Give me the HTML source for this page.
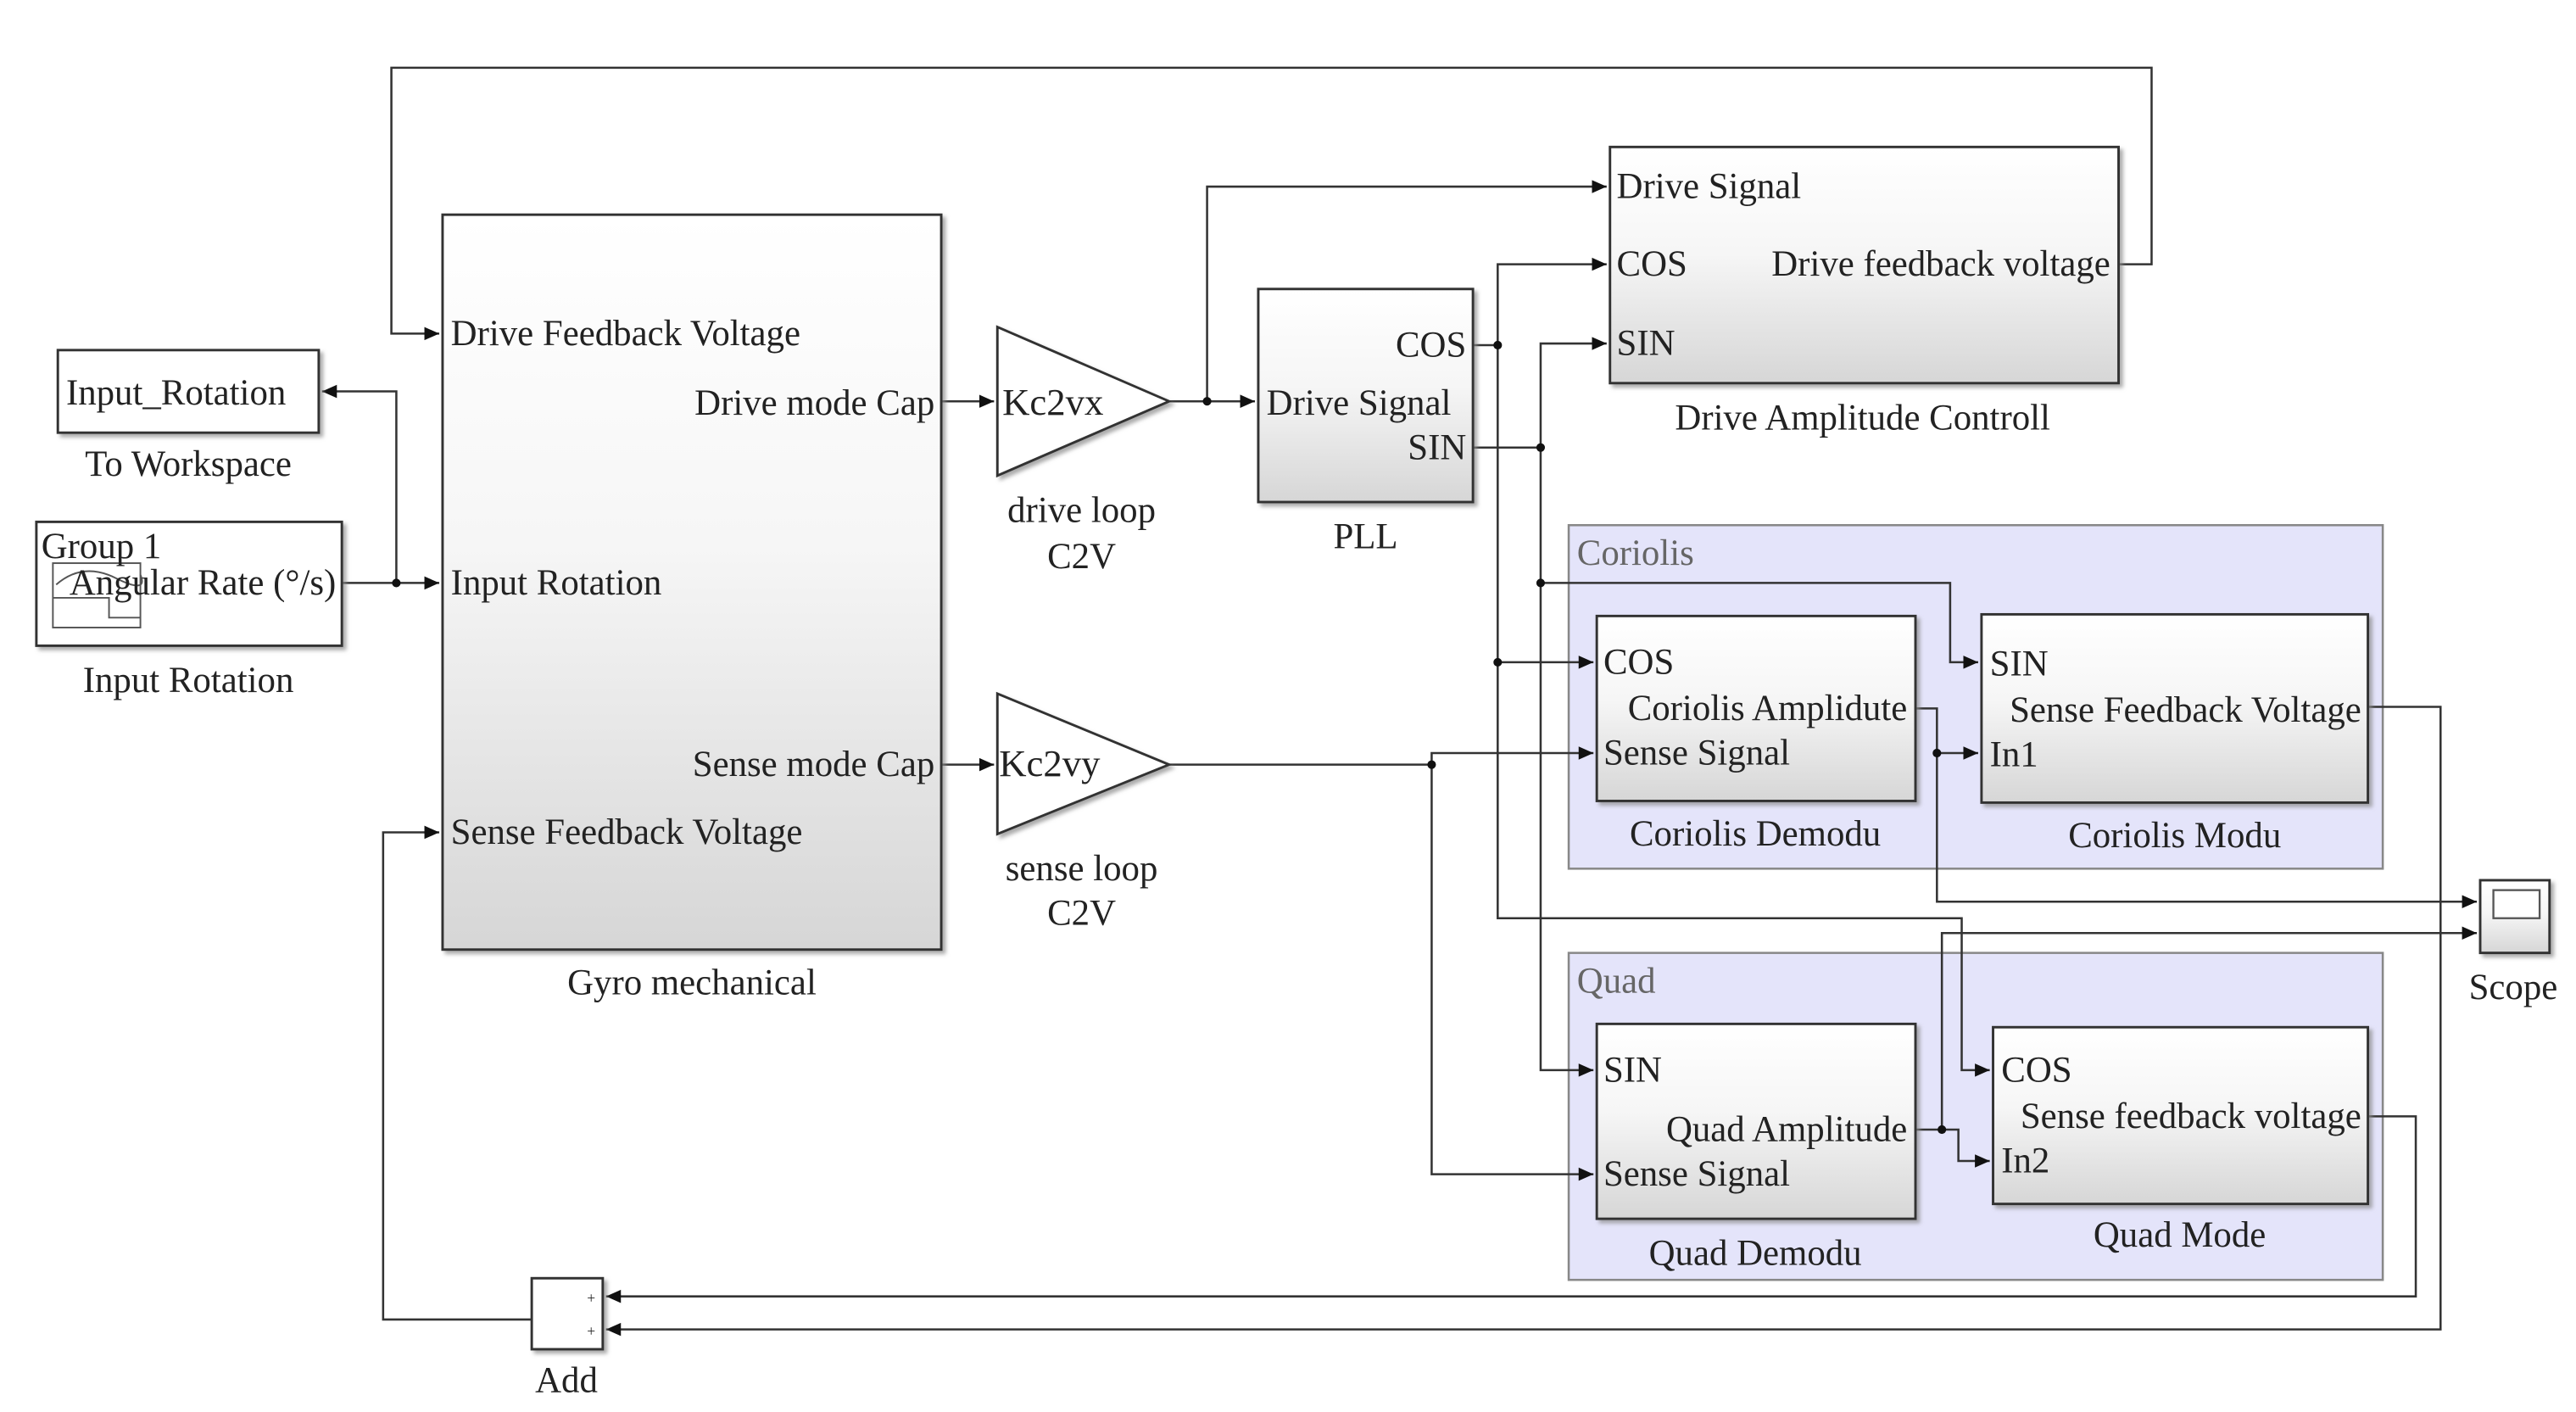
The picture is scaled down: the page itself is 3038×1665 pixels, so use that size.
<!DOCTYPE html>
<html><head><meta charset="utf-8"><style>
html,body{margin:0;padding:0;background:#fff;}
svg{display:block;}
text{font-family:"Liberation Serif","Times New Roman",serif;font-size:22px;fill:#222;}
</style></head><body>
<svg width="3038" height="1665" viewBox="0 0 1560 855" xmlns="http://www.w3.org/2000/svg">
<defs>
<linearGradient id="g" x1="0" y1="0" x2="0" y2="1"><stop offset="0" stop-color="#ffffff"/><stop offset="0.45" stop-color="#f6f6f6"/><stop offset="1" stop-color="#d6d6d6"/></linearGradient>
<marker id="a" markerWidth="10" markerHeight="10" refX="9" refY="5" orient="auto" markerUnits="userSpaceOnUse"><path d="M0,1 L9,5 L0,9 z" fill="#111"/></marker>
<filter id="s" x="-5%" y="-5%" width="115%" height="115%"><feDropShadow dx="2" dy="2" stdDeviation="1.2" flood-color="#888" flood-opacity="0.7"/></filter>
</defs>

<rect x="950" y="318" width="493" height="208" fill="#e4e4fa" stroke="#888" stroke-width="1.3"/>
<text x="955" y="342" style="fill:#666">Coriolis</text>
<rect x="950" y="577" width="493" height="198" fill="#e4e4fa" stroke="#888" stroke-width="1.3"/>
<text x="955" y="601" style="fill:#666">Quad</text>

<g fill="none" stroke="#333" stroke-width="1.3">
<polyline points="1283,160 1303,160 1303,41 237,41 237,202 266,202" marker-end="url(#a)"/>
<polyline points="207,353 266,353" marker-end="url(#a)"/>
<polyline points="240,353 240,237 195,237" marker-end="url(#a)"/>
<polyline points="570,243 602,243" marker-end="url(#a)"/>
<polyline points="570,463 602,463" marker-end="url(#a)"/>
<polyline points="708,243 760,243" marker-end="url(#a)"/>
<polyline points="731,243 731,113 973,113" marker-end="url(#a)"/>
<polyline points="892,209 907,209"/>
<polyline points="907,209 907,160 973,160" marker-end="url(#a)"/>
<polyline points="907,209 907,401 965,401" marker-end="url(#a)"/>
<polyline points="907,401 907,556 1188,556 1188,648 1205,648" marker-end="url(#a)"/>
<polyline points="892,271 933,271"/>
<polyline points="933,271 933,208 973,208" marker-end="url(#a)"/>
<polyline points="933,271 933,353 1181,353 1181,401 1198,401" marker-end="url(#a)"/>
<polyline points="933,353 933,648 965,648" marker-end="url(#a)"/>
<polyline points="708,463 867,463"/>
<polyline points="867,463 867,456 965,456" marker-end="url(#a)"/>
<polyline points="867,463 867,711 965,711" marker-end="url(#a)"/>
<polyline points="1160,429 1173,429 1173,456 1198,456" marker-end="url(#a)"/>
<polyline points="1173,456 1173,546 1500,546" marker-end="url(#a)"/>
<polyline points="1160,684 1186,684 1186,703 1205,703" marker-end="url(#a)"/>
<polyline points="1176,684 1176,565 1500,565" marker-end="url(#a)"/>
<polyline points="1434,428 1478,428 1478,805 367,805" marker-end="url(#a)"/>
<polyline points="1434,676 1463,676 1463,785 367,785" marker-end="url(#a)"/>
<polyline points="322,799 232,799 232,504 266,504" marker-end="url(#a)"/>
</g>
<g fill="#111">
<circle cx="240" cy="353" r="2.6"/><circle cx="731" cy="243" r="2.6"/>
<circle cx="907" cy="209" r="2.6"/><circle cx="907" cy="401" r="2.6"/>
<circle cx="933" cy="271" r="2.6"/><circle cx="933" cy="353" r="2.6"/>
<circle cx="867" cy="463" r="2.6"/><circle cx="1173" cy="456" r="2.6"/>
<circle cx="1176" cy="684" r="2.6"/>
</g>

<g stroke="#333" stroke-width="1.5" filter="url(#s)">
<rect x="268" y="130" width="302" height="445" fill="url(#g)"/>
<rect x="35" y="212" width="158" height="50" fill="#fff"/>
<rect x="22" y="316" width="185" height="75" fill="#fff"/>
<rect x="762" y="175" width="130" height="129" fill="url(#g)"/>
<rect x="975" y="89" width="308" height="143" fill="url(#g)"/>
<rect x="967" y="373" width="193" height="112" fill="url(#g)"/>
<rect x="1200" y="372" width="234" height="114" fill="url(#g)"/>
<rect x="967" y="620" width="193" height="118" fill="url(#g)"/>
<rect x="1207" y="622" width="227" height="107" fill="url(#g)"/>
<rect x="1502" y="533" width="42" height="44" fill="url(#g)"/>
<rect x="322" y="774" width="43" height="43" fill="#fff"/>
<polygon points="604,198 604,288 708,243" fill="#fff"/>
<polygon points="604,420 604,505 708,463" fill="#fff"/>
</g>
<rect x="1510" y="539" width="28" height="17" fill="#fff" stroke="#555" stroke-width="1.2"/>
<g fill="none" stroke="#555" stroke-width="1"><rect x="32" y="341" width="53" height="39"/><polyline points="32,362 66,362 66,374 85,374"/><path d="M34,354 Q50,340 70,350 T85,348"/></g>

<text x="273" y="209">Drive Feedback Voltage</text>
<text x="566" y="251" text-anchor="end">Drive mode Cap</text>
<text x="273" y="360">Input Rotation</text>
<text x="566" y="470" text-anchor="end">Sense mode Cap</text>
<text x="273" y="511">Sense Feedback Voltage</text>
<text x="419" y="602" text-anchor="middle">Gyro mechanical</text>
<text x="40" y="245">Input_Rotation</text>
<text x="114" y="288" text-anchor="middle">To Workspace</text>
<text x="25" y="338">Group 1</text>
<text x="42" y="360">Angular Rate (°/s)</text>
<text x="114" y="419" text-anchor="middle">Input Rotation</text>
<text x="607" y="251" style="font-size:23px">Kc2vx</text>
<text x="655" y="316" text-anchor="middle">drive loop</text>
<text x="655" y="344" text-anchor="middle">C2V</text>
<text x="605" y="470" style="font-size:23px">Kc2vy</text>
<text x="655" y="533" text-anchor="middle">sense loop</text>
<text x="655" y="560" text-anchor="middle">C2V</text>
<text x="888" y="216" text-anchor="end">COS</text>
<text x="767" y="251">Drive Signal</text>
<text x="888" y="278" text-anchor="end">SIN</text>
<text x="827" y="332" text-anchor="middle">PLL</text>
<text x="979" y="120">Drive Signal</text>
<text x="979" y="167">COS</text>
<text x="1278" y="167" text-anchor="end">Drive feedback voltage</text>
<text x="979" y="215">SIN</text>
<text x="1128" y="260" text-anchor="middle">Drive Amplitude Controll</text>
<text x="971" y="408">COS</text>
<text x="1155" y="436" text-anchor="end">Coriolis Amplidute</text>
<text x="971" y="463">Sense Signal</text>
<text x="1063" y="512" text-anchor="middle">Coriolis Demodu</text>
<text x="1205" y="409">SIN</text>
<text x="1430" y="437" text-anchor="end">Sense Feedback Voltage</text>
<text x="1205" y="464">In1</text>
<text x="1317" y="513" text-anchor="middle">Coriolis Modu</text>
<text x="971" y="655">SIN</text>
<text x="1155" y="691" text-anchor="end">Quad Amplitude</text>
<text x="971" y="718">Sense Signal</text>
<text x="1063" y="766" text-anchor="middle">Quad Demodu</text>
<text x="1212" y="655">COS</text>
<text x="1430" y="683" text-anchor="end">Sense feedback voltage</text>
<text x="1212" y="710">In2</text>
<text x="1320" y="755" text-anchor="middle">Quad Mode</text>
<text x="1522" y="605" text-anchor="middle">Scope</text>
<text x="343" y="843" text-anchor="middle">Add</text>
<text x="358" y="789" text-anchor="middle" style="font-size:9px">+</text>
<text x="358" y="809" text-anchor="middle" style="font-size:9px">+</text>
</svg>
</body></html>
